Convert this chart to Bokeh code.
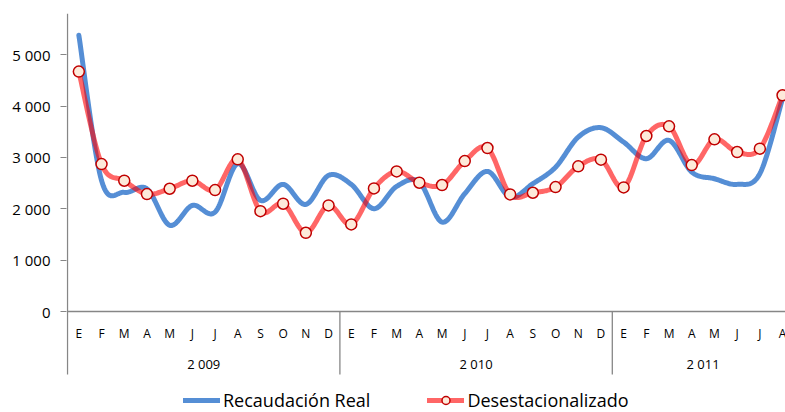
from bokeh.plotting import figure
from bokeh.models import Range1d, FixedTicker, Legend, LegendItem, ColumnDataSource
from bokeh.core.properties import value
from bokeh.embed import file_html
from bokeh.resources import INLINE

# ---------------- data ----------------
months = ["E", "F", "M", "A", "M", "J", "J", "A", "S", "O", "N", "D",
          "E", "F", "M", "A", "M", "J", "J", "A", "S", "O", "N", "D",
          "E", "F", "M", "A", "M", "J", "J", "A"]
years = ["2 009", "2 010", "2 011"]
year_first_index = [0, 12, 24]
year_last_index = [11, 23, 31]

recaudacion_real = [5380, 2550, 2320, 2390, 1680, 2066, 1935, 2880, 2164, 2476, 2086, 2651,
                    2476, 2002, 2437, 2521, 1741, 2294, 2729, 2228, 2489, 2810, 3398, 3580,
                    3300, 2976, 3333, 2716, 2586, 2476, 2684, 4150]
desestacionalizado = [4672, 2871, 2547, 2287, 2391, 2547, 2365, 2963, 1955, 2099, 1533, 2066,
                      1696, 2398, 2729, 2508, 2463, 2930, 3184, 2281, 2313, 2424, 2827, 2957,
                      2417, 3418, 3606, 2852, 3353, 3106, 3171, 4211]

y_ticks = [0, 1000, 2000, 3000, 4000, 5000]
y_tick_labels = ["0", "1 000", "2 000", "3 000", "4 000", "5 000"]

FONT = "Open Sans"
BLUE = "#558ED5"
RED = "#FF0000"
AXIS_GRAY = "#868686"

X_START, X_END = -0.544, 31.13
Y_START, Y_END = -1967, 5804
CAT_AXIS_BOTTOM = -1227


def smooth(xs, ys, steps=24):
    """Catmull-Rom style smoothing (as spreadsheet 'smoothed line') for drawing."""
    n = len(xs)
    outx, outy = [], []
    for i in range(n - 1):
        x0 = xs[i - 1] if i > 0 else xs[i]
        y0 = ys[i - 1] if i > 0 else ys[i]
        x3 = xs[i + 2] if i + 2 < n else xs[i + 1]
        y3 = ys[i + 2] if i + 2 < n else ys[i + 1]
        x1, y1, x2, y2 = xs[i], ys[i], xs[i + 1], ys[i + 1]
        c1x, c1y = x1 + (x2 - x0) / 6.0, y1 + (y2 - y0) / 6.0
        c2x, c2y = x2 - (x3 - x1) / 6.0, y2 - (y3 - y1) / 6.0
        for k in range(steps):
            t = k / steps
            a, b, c, d = (1 - t) ** 3, 3 * (1 - t) ** 2 * t, 3 * (1 - t) * t ** 2, t ** 3
            outx.append(a * x1 + b * c1x + c * c2x + d * x2)
            outy.append(a * y1 + b * c1y + c * c2y + d * y2)
    outx.append(xs[-1])
    outy.append(ys[-1])
    return outx, outy


idx = list(range(len(months)))

p = figure(width=785, height=412, output_backend="svg", toolbar_location=None,
           x_range=Range1d(X_START, X_END), y_range=Range1d(Y_START, Y_END),
           x_axis_type=None, min_border_left=66, min_border_right=0,
           min_border_top=13, min_border_bottom=0)
p.outline_line_color = None
p.grid.visible = False
p.background_fill_color = "white"
p.border_fill_color = "white"

# y axis
ax = p.yaxis[0]
ax.ticker = FixedTicker(ticks=y_ticks)
ax.major_label_overrides = {t: l for t, l in zip(y_ticks, y_tick_labels)}
ax.axis_line_color = None
ax.major_tick_line_color = AXIS_GRAY
ax.major_tick_in = 0
ax.major_tick_out = 6
ax.minor_tick_line_color = None
ax.major_label_text_font = FONT
ax.major_label_text_font_size = "15px"
ax.major_label_text_color = "#000000"
ax.major_label_standoff = 10

# axis lines: vertical value axis (continues as group separator), category axis at 0
p.segment(x0=[-0.5], y0=[Y_END], x1=[-0.5], y1=[CAT_AXIS_BOTTOM], line_color=AXIS_GRAY, line_width=1.3)
p.segment(x0=[-0.5], y0=[0], x1=[X_END], y1=[0], line_color=AXIS_GRAY, line_width=1.3)
sep_x = [year_last_index[0] + 0.5, year_last_index[1] + 0.5]
p.segment(x0=sep_x, y0=[0, 0], x1=sep_x, y1=[CAT_AXIS_BOTTOM] * 2, line_color=AXIS_GRAY, line_width=1.3)

p.text(x=idx, y=[-428] * len(idx), text=months, text_align="center", text_baseline="middle",
       text_font=value(FONT), text_font_size="12px", text_color="#000000")
year_x = [(a + b) / 2 for a, b in zip(year_first_index, year_last_index)]
p.text(x=year_x, y=[-1013] * len(years), text=years, text_align="center", text_baseline="middle",
       text_font=value(FONT), text_font_size="13px", text_color="#000000")

# series
bx, by = smooth(idx, recaudacion_real)
r_blue = p.line(bx, by, line_color=BLUE, line_width=5, line_join="round", line_cap="round")
rx, ry = smooth(idx, desestacionalizado)
r_red = p.line(rx, ry, line_color=RED, line_alpha=0.6, line_width=5, line_join="round", line_cap="round")
src = ColumnDataSource(dict(x=idx, y=desestacionalizado))
r_mark = p.scatter("x", "y", source=src, size=11, fill_color="#FDEADA", line_color="#C00000",
                   line_width=1.5)

legend = Legend(items=[LegendItem(label="Recaudación Real", renderers=[r_blue]),
                       LegendItem(label="Desestacionalizado", renderers=[r_red, r_mark])],
                orientation="horizontal", location=(117, 0),
                label_text_font=FONT, label_text_font_size="18px", label_text_color="#000000",
                glyph_width=37, glyph_height=20, label_standoff=3, spacing=57,
                padding=0, margin=0, border_line_color=None, background_fill_alpha=0)
p.add_layout(legend, "center")

open("out.html", "w").write(file_html(p, INLINE))
